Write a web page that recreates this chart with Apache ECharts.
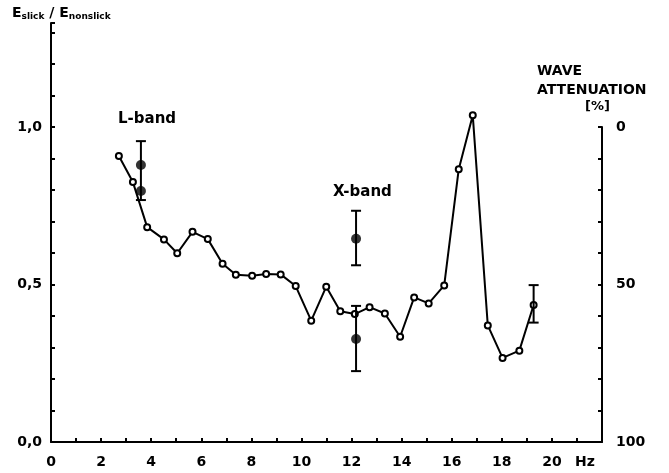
<!DOCTYPE html>
<html><head><meta charset="utf-8">
<script src="https://cdn.jsdelivr.net/npm/echarts@6/dist/echarts.min.js"></script>
<style>html,body{margin:0;padding:0;background:#fff}#c{width:669px;height:473px}</style>
</head><body><div id="c"></div>
<script>
// Frequency (Hz) and E_slick/E_nonslick ratio, open circles
var freq  = [2.71,3.27,3.84,4.51,5.04,5.65,6.26,6.85,7.38,8.03,8.59,9.17,9.77,10.39,10.99,11.55,12.13,12.72,13.33,13.94,14.50,15.08,15.70,16.28,16.84,17.44,18.03,18.70,19.27];
var ratio = [0.908,0.825,0.682,0.643,0.599,0.667,0.644,0.566,0.531,0.528,0.533,0.532,0.495,0.385,0.493,0.415,0.406,0.428,0.408,0.334,0.459,0.440,0.497,0.866,1.037,0.370,0.267,0.290,0.435];
// Radar band measurements (filled dots)
var bandFreq  = [3.59,3.59,12.18,12.18];
var bandRatio = [0.879,0.797,0.645,0.327];
// Error bars
var errFreq = [3.59,12.18,12.18,19.27];
var errLo   = [0.768,0.561,0.225,0.379];
var errHi   = [0.955,0.734,0.432,0.498];
// Tick labels
var leftLabels  = [0, 0.5, 1.0];
var rightLabels = [0, 50, 100];
var xLabels = [0,2,4,6,8,10,12,14,16,18,20];

var FONT = 'DejaVu Sans';
var chart = echarts.init(document.getElementById('c'));
var lineData = freq.map(function(f,i){return [f, ratio[i]];});
var bandData = bandFreq.map(function(f,i){return [f, bandRatio[i]];});
var errData = errFreq.map(function(f,i){return [f, errLo[i], errHi[i]];});

chart.setOption({
  animation:false,
  backgroundColor:'#fff',
  grid:[
    {left:51, right:67, top:23, bottom:31},
    {left:51, right:67, top:127, bottom:31}
  ],
  xAxis:[
    {gridIndex:0, type:'value', min:0, max:22, interval:1,
     axisLine:{onZero:false, lineStyle:{color:'#000', width:2}},
     axisTick:{inside:true, length:4, lineStyle:{color:'#000', width:2}},
     splitLine:{show:false},
     axisLabel:{margin:13, color:'#000', fontFamily:FONT, fontWeight:'bold', fontSize:14,
       formatter:function(v){return xLabels.indexOf(v)>=0 ? String(v) : '';}}},
    {gridIndex:1, type:'value', min:0, max:22, show:false}
  ],
  yAxis:[
    {gridIndex:0, type:'value', min:0, max:1.33, interval:0.1,
     axisLine:{show:true, onZero:false, lineStyle:{color:'#000', width:2}},
     axisTick:{inside:true, length:4, lineStyle:{color:'#000', width:2}},
     splitLine:{show:false},
     axisLabel:{margin:9, color:'#000', fontFamily:FONT, fontWeight:'bold', fontSize:14,
       formatter:function(v){
         for (var i=0;i<leftLabels.length;i++){ if (Math.abs(v-leftLabels[i])<1e-6) return leftLabels[i].toFixed(1).replace('.',','); }
         return '';}}},
    {gridIndex:1, type:'value', min:0, max:100, interval:10, inverse:true, position:'right',
     axisLine:{show:true, onZero:false, lineStyle:{color:'#000', width:2}},
     axisTick:{inside:true, length:4, lineStyle:{color:'#000', width:2}},
     splitLine:{show:false},
     axisLabel:{margin:14, color:'#000', fontFamily:FONT, fontWeight:'bold', fontSize:14,
       formatter:function(v){return rightLabels.indexOf(v)>=0 ? String(v) : '';}}}
  ],
  series:[
    {type:'line', data:lineData, xAxisIndex:0, yAxisIndex:0, symbol:'circle', symbolSize:6,
     lineStyle:{color:'#000', width:2},
     itemStyle:{color:'#fff', borderColor:'#000', borderWidth:2}, z:3},
    {type:'custom', data:errData, xAxisIndex:0, yAxisIndex:0, z:4,
     renderItem:function(params, api){
       var x = api.value(0);
       var lo = api.coord([x, api.value(1)]);
       var hi = api.coord([x, api.value(2)]);
       var w = 5;
       var st = {stroke:'#000', lineWidth:2};
       return {type:'group', children:[
         {type:'line', shape:{x1:lo[0], y1:lo[1], x2:hi[0], y2:hi[1]}, style:st},
         {type:'line', shape:{x1:hi[0]-w, y1:hi[1], x2:hi[0]+w, y2:hi[1]}, style:st},
         {type:'line', shape:{x1:lo[0]-w, y1:lo[1], x2:lo[0]+w, y2:lo[1]}, style:st}
       ]};
     }},
    {type:'scatter', data:bandData, xAxisIndex:0, yAxisIndex:0, symbol:'circle', symbolSize:10,
     itemStyle:{color:'#000'}, z:5}
  ],
  graphic:[
    {type:'text', left:12, top:6, style:{
      rich:{b:{fontFamily:FONT, fontWeight:'bold', fontSize:14, fill:'#000'},
            s:{fontFamily:FONT, fontWeight:'bold', fontSize:9, fill:'#000', padding:[8,0,0,0]}},
      text:'{b|E}{s|slick}{b| / E}{s|nonslick}'}},
    {type:'text', left:537, top:64, style:{text:'WAVE', fontFamily:FONT, fontWeight:'bold', fontSize:14, fill:'#000'}},
    {type:'text', left:537, top:83, style:{text:'ATTENUATION', fontFamily:FONT, fontWeight:'bold', fontSize:14, fill:'#000'}},
    {type:'text', left:585, top:100, style:{text:'[%]', fontFamily:FONT, fontWeight:'bold', fontSize:13, fill:'#000'}},
    {type:'text', left:118, top:112, style:{text:'L-band', fontFamily:FONT, fontWeight:'bold', fontSize:15, fill:'#000'}},
    {type:'text', left:333, top:185, style:{text:'X-band', fontFamily:FONT, fontWeight:'bold', fontSize:15, fill:'#000'}},
    {type:'text', left:575, top:455, style:{text:'Hz', fontFamily:FONT, fontWeight:'bold', fontSize:14, fill:'#000'}}
  ]
});
</script></body></html>
